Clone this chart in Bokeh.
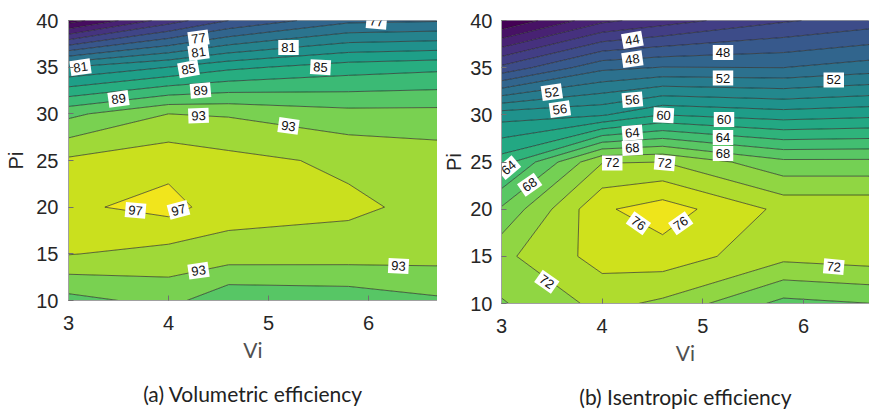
import numpy as np
from bokeh.plotting import figure
from bokeh.layouts import row
from bokeh.models import Title, Range1d, FixedTicker
from bokeh.palettes import Viridis256
from bokeh.embed import file_html
from bokeh.resources import INLINE
from bokeh.core.properties import value

# ---------------- data ----------------
vi = [3.0, 4.0, 4.6, 5.8, 6.7]
pi = [10, 15, 20, 25, 30, 35, 40]

# rows follow pi, columns follow vi
vol_eff = [
    [90.3, 91.7, 89.4, 89.7, 90.7],
    [95.1, 94.3, 94.1, 94.0, 93.8],
    [96.6, 97.7, 95.9, 95.4, 94.4],
    [95.35, 96.3, 95.6, 94.6, 94.0],
    [90.5, 93.0, 92.8, 91.7, 91.7],
    [81.0, 83.0, 84.5, 86.0, 86.5],
    [64.0, 70.0, 73.0, 76.5, 76.8],
]
isen_eff = [
    [69.8, 72.6, 71.6, 67.4, 68.0],
    [71.5, 74.8, 75.15, 72.6, 73.1],
    [68.3, 75.7, 77.0, 73.5, 73.5],
    [63.0, 71.9, 72.0, 68.5, 68.5],
    [57.1, 57.8, 60.0, 59.0, 59.5],
    [44.5, 49.5, 50.1, 50.0, 51.0],
    [34.0, 39.5, 41.0, 43.75, 45.0],
]

vol_levels = list(range(63, 101, 2))
isen_levels = list(range(34, 80, 2))

x_ticks = [3, 4, 5, 6]
y_ticks = [10, 15, 20, 25, 30, 35, 40]

# contour labels (text, Vi, Pi, angle in degrees)
vol_lab_text = ["77", "77", "81", "85", "89", "93", "81", "89", "81", "85", "93", "97", "97", "93", "93"]
vol_lab_vi = [6.08, 4.30, 4.30, 4.20, 4.32, 4.30, 3.12, 3.50, 5.20, 5.52, 5.20, 3.67, 4.10, 4.30, 6.30]
vol_lab_pi = [39.9, 38.1, 36.6, 34.8, 32.5, 29.8, 35.0, 31.6, 37.1, 35.0, 28.7, 19.65, 19.7, 13.2, 13.7]
vol_lab_ang = [-5, 8, 8, 10, 5, 2, 8, 8, 0, -3, -8, -5, 15, 8, -3]

isen_lab_text = ["44", "48", "48", "52", "52", "52", "56", "56", "60", "60", "64", "68",
                 "64", "68", "64", "68", "72", "72", "76", "76", "72", "72"]
isen_lab_vi = [4.30, 4.30, 5.20, 5.20, 6.30, 3.50, 3.58, 4.30, 4.61, 5.21, 5.20, 5.20,
               4.30, 4.30, 3.07, 3.28, 4.10, 4.62, 4.36, 4.78, 6.30, 3.45]
isen_lab_pi = [37.95, 35.9, 36.6, 33.9, 33.7, 32.4, 30.6, 31.6, 29.95, 29.5, 27.6, 25.9,
               28.1, 26.5, 24.4, 22.6, 24.9, 24.9, 18.5, 18.5, 13.9, 12.3]
isen_lab_ang = [10, 8, 0, 0, 0, 8, 8, 5, -3, 0, 0, 0,
                5, 3, 40, 35, 0, -5, -35, 35, -5, -35]


def band_colors(levels, z):
    zmin, zmax = float(np.min(z)), float(np.max(z))
    out = []
    for lo in levels[:-1]:
        f = min(max((lo - zmin) / (zmax - zmin), 0.0), 1.0)
        out.append(Viridis256[int(round(f * 255))])
    return out


def make_panel(z, levels, labels, caption, xmax, fw, fh, left, right, top, bottom,
               tick_standoff, label_standoff):
    z = np.array(z, dtype=float)
    p = figure(frame_width=fw, frame_height=fh, min_border_left=left, min_border_right=right,
               min_border_top=top, min_border_bottom=bottom,
               x_range=Range1d(3, xmax), y_range=Range1d(10, 40),
               output_backend="svg", toolbar_location=None)
    p.contour(vi, pi, z, levels, fill_color=band_colors(levels, z),
              line_color="#1e1e1e", line_width=0.75, line_alpha=0.85)
    txt, lx, ly, la = labels
    p.text(x=lx, y=ly, text=txt, angle=la, angle_units="deg",
           text_font=value("Liberation Sans"), text_font_size="13px", text_color="#111111",
           text_align="center", text_baseline="middle",
           background_fill_color="white", padding=3)
    p.xgrid.visible = False
    p.ygrid.visible = False
    p.outline_line_color = "#a0a0a0"
    p.xaxis.ticker = FixedTicker(ticks=x_ticks)
    p.yaxis.ticker = FixedTicker(ticks=y_ticks)
    for ax in (p.xaxis, p.yaxis):
        ax.major_label_text_font = "Liberation Sans"
        ax.major_label_text_font_size = "20px"
        ax.major_label_text_color = "#262626"
        ax.major_tick_in = 5
        ax.major_tick_out = 0
        ax.minor_tick_line_color = None
        ax.axis_line_color = "#a0a0a0"
        ax.major_tick_line_color = "#707070"
    p.xaxis.major_label_standoff = 15
    p.yaxis.major_label_standoff = tick_standoff
    p.yaxis.axis_label = "Pi"
    p.yaxis.axis_label_text_font = "Liberation Sans"
    p.yaxis.axis_label_text_font_size = "20px"
    p.yaxis.axis_label_text_font_style = "normal"
    p.yaxis.axis_label_text_color = "#262626"
    p.yaxis.axis_label_standoff = label_standoff
    p.xaxis.axis_label = "Vi"
    p.xaxis.axis_label_text_font = "Lato"
    p.xaxis.axis_label_text_font_size = "21px"
    p.xaxis.axis_label_text_font_style = "normal"
    p.xaxis.axis_label_text_color = "#505050"
    p.xaxis.axis_label_standoff = 4
    p.add_layout(Title(text=caption, align="center", text_font="Lato", text_font_size="21px",
                       text_font_style="normal", text_color="#222222", standoff=28), "below")
    return p


p1 = make_panel(vol_eff, vol_levels, (vol_lab_text, vol_lab_vi, vol_lab_pi, vol_lab_ang),
                "(a) Volumetric efficiency", 6.69, 369, 280, 68, 0, 20, 113, 10, 6)
p2 = make_panel(isen_eff, isen_levels, (isen_lab_text, isen_lab_vi, isen_lab_pi, isen_lab_ang),
                "(b) Isentropic efficiency", 6.655, 368, 283, 64, 0, 16, 114, 9, 2)

layout = row(p1, p2)
open("out.html", "w").write(file_html(layout, INLINE))
